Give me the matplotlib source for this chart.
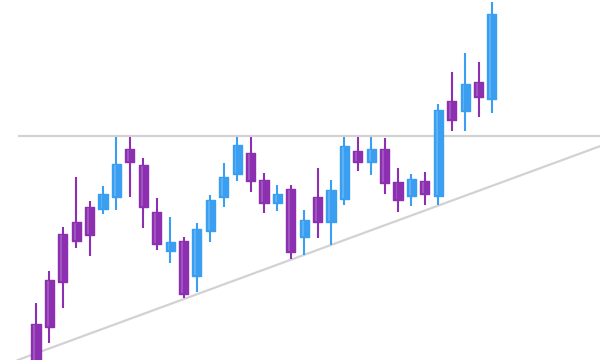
import matplotlib
matplotlib.use('Agg')
import matplotlib.pyplot as plt
import numpy as np

# ohlc (arbitrary price units)
opens  = [36, 80, 126, 138, 153, 151, 163, 211, 195, 148, 109, 119, 84, 129, 163, 186, 207, 180,
          157, 171, 123, 163, 138, 161, 209, 198, 211, 178, 164, 179, 164, 259, 249, 278, 261]
highs  = [57, 89, 133, 183, 159, 174, 223, 223, 202, 162, 143, 123, 137, 165, 197, 223, 223, 187,
          175, 175, 150, 192, 180, 223, 223, 223, 222, 192, 186, 188, 256, 288, 307, 298, 358]
lows   = [-12, 17, 52, 112, 104, 146, 150, 163, 132, 110, 97, 62, 68, 118, 153, 179, 168, 147,
          149, 101, 105, 122, 115, 155, 189, 185, 166, 148, 154, 155, 155, 229, 229, 243, 247]
closes = [-2, 33, 78, 119, 125, 166, 196, 198, 153, 116, 118, 66, 131, 160, 183, 215, 179, 157,
          166, 108, 140, 138, 170, 214, 198, 211, 177, 160, 181, 166, 250, 240, 276, 263, 346]

resistance = 224
support_x = [-1.35, 42.1]
support_y = [0, 214]

up_col = '#3a9ff0'
down_col = '#8c2fb0'
line_col = '#d2d2d2'

fig = plt.figure(figsize=(6, 3.6), dpi=100)
ax = fig.add_axes([0, 0, 1, 1])

# trend lines
ax.plot([-1.35, 42.1], [resistance, resistance], color=line_col, lw=1.6, zorder=1, solid_capstyle='butt')
ax.plot(support_x, support_y, color=line_col, lw=1.6, zorder=1)

idx = np.arange(len(opens))
for i in idx:
    o, h, l, c = opens[i], highs[i], lows[i], closes[i]
    col = up_col if c >= o else down_col
    ax.vlines(i, l, h, color=col, lw=1.5, zorder=2)
    ax.bar(i, abs(c - o), bottom=min(o, c), width=0.68, color=col,
           edgecolor=col, linewidth=1.0, joinstyle='round', zorder=3)
    # light stripe for a bit of shine
    ax.bar(i - 0.12, abs(c - o) - 2, bottom=min(o, c) + 1, width=0.14,
           color='white', alpha=0.18, linewidth=0, zorder=4)

ax.set_xlim(-2.685, 42.06)
ax.set_ylim(0, 360)
ax.axis('off')

plt.savefig('out.png', dpi=100, facecolor='white')
